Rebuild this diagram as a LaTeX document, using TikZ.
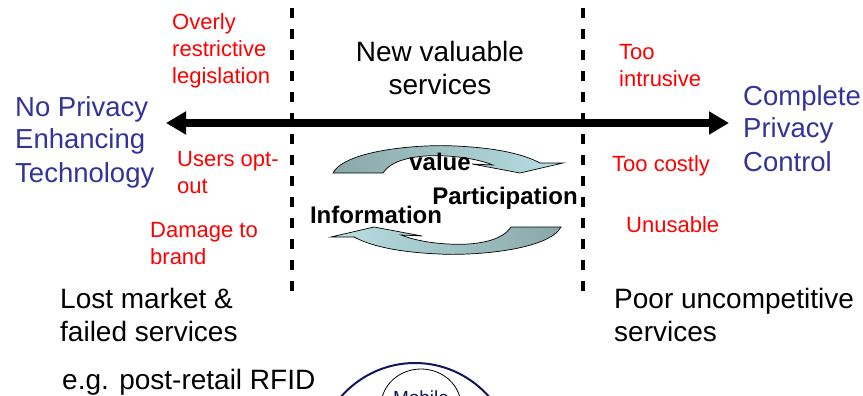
\documentclass[tikz,border=0pt]{standalone}
\usepackage{fontspec}
\setmainfont{Liberation Sans}
\usetikzlibrary{arrows.meta}
\definecolor{pblue}{HTML}{333399}
\definecolor{pred}{HTML}{FF0000}
\definecolor{adark}{HTML}{8AA7A8}
\definecolor{alight}{HTML}{B8E0E5}
\definecolor{navy}{HTML}{14145A}
\begin{document}
\begin{tikzpicture}[x=1pt,y=-1pt,
  endtext/.style={text=pblue,font=\fontsize{27.5}{33}\selectfont,align=left,inner sep=0pt},
  redtext/.style={text=pred,font=\fontsize{22}{27}\selectfont,align=left,inner sep=0pt},
  plaintext/.style={text=black,font=\fontsize{28}{33}\selectfont,align=left,inner sep=0pt},
  flowtext/.style={text=black,font=\fontsize{24}{28}\selectfont\bfseries,inner sep=0pt},
  divider/.style={line width=4pt,dash pattern=on 10pt off 11pt},
  mainarrow/.style={line width=7pt,{Triangle[length=20pt,width=22pt]}-{Triangle[length=20pt,width=22pt]}},
  flowarrow/.style={draw=black,line width=0.7pt},
]
\useasboundingbox (0,0) rectangle (863,396);
\clip (0,0) rectangle (863,396);

% dividers
\coordinate (d1t) at (292,8);
\coordinate (d1b) at (292,300);
\coordinate (d2t) at (583,8);
\coordinate (d2b) at (583,300);
\draw[divider] (d1t) -- (d1b);
\draw[divider] (d2t) -- (d2b);

% main double arrow
\coordinate (aL) at (166,123);
\coordinate (aR) at (729,123);
\draw[mainarrow] (aL) -- (aR);

% flow arrows
\path[flowarrow,left color=adark,right color=alight]
  (333,173) .. controls (345,150) and (420,144) .. (455,146)
  .. controls (500,148) and (525,155) .. (540,163)
  -- (563,163) -- (520,173) -- (472,164) -- (493,165)
  .. controls (470,156) and (440,155) .. (425,156)
  .. controls (400,158) and (388,165) .. (383,173) -- cycle;
\path[flowarrow,left color=alight,right color=adark]
  (561,227) .. controls (549,250) and (474,256) .. (439,254)
  .. controls (394,252) and (369,245) .. (354,237)
  -- (331,237) -- (374,227) -- (422,236) -- (401,235)
  .. controls (424,244) and (454,245) .. (469,244)
  .. controls (494,242) and (506,235) .. (511,227) -- cycle;

% end labels (base anchor = last line baseline)
\node[endtext,anchor=base west] (nopet) at (15,182) {No Privacy\\Enhancing\\Technology};
\node[endtext,anchor=base west] (cpc) at (743,171) {Complete\\Privacy\\Control};

% centre
\node[plaintext,align=center,anchor=base] (nvs) at (440,95) {New valuable\\services};
\node[flowtext,anchor=base] (val) at (440,170) {value};
\node[flowtext,anchor=base] (par) at (505,204) {Participation};
\node[flowtext,anchor=base] (inf) at (376,223) {Information};

% red labels
\node[redtext,anchor=base west] (orl) at (172,84) {Overly\\restrictive\\legislation};
\node[redtext,anchor=base west] (uoo) at (177,193) {Users opt-\\out};
\node[redtext,anchor=base west] (dtb) at (150,264) {Damage to\\brand};
\node[redtext,anchor=base west] (tin) at (619,87) {Too\\intrusive};
\node[redtext,anchor=base west] (tco) at (612,171) {Too costly};
\node[redtext,anchor=base west] (unu) at (626,232) {Unusable};

% outcomes
\node[plaintext,anchor=base west] (lost) at (60,341) {Lost market \&\\failed services};
\node[plaintext,anchor=base west] (poor) at (614,341) {Poor uncompetitive\\services};
\node[plaintext,anchor=base west] (eg) at (62,389) {e.g. post-retail RFID};

% bottom circles
\draw[navy,line width=2pt] (415,466) ellipse [x radius=100,y radius=103];
\draw[black,line width=0.8pt] (421,406) ellipse [x radius=40,y radius=37];
\node[text=navy,font=\fontsize{19}{22}\selectfont,anchor=base,inner sep=0pt] (mob) at (421,404) {Mobile};
\end{tikzpicture}
\end{document}
